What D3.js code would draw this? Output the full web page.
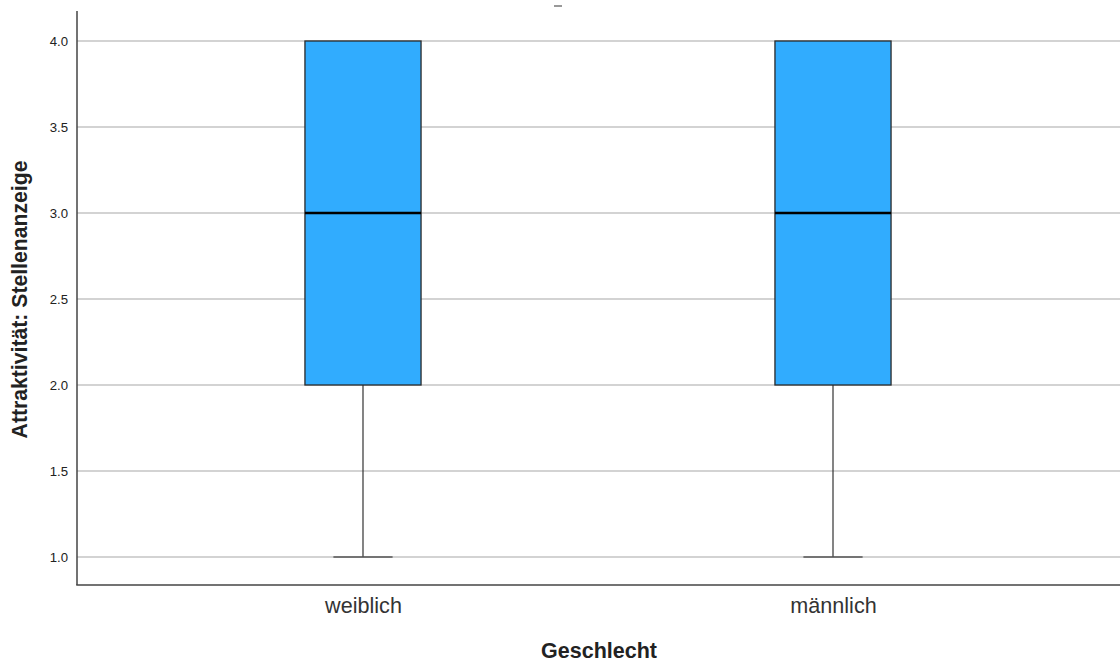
<!DOCTYPE html>
<html>
<head>
<meta charset="utf-8">
<script src="https://cdn.jsdelivr.net/npm/d3@7"></script>
<style>
  html, body { margin: 0; padding: 0; background: #fff; }
  svg { display: block; font-family: "Liberation Sans", Arial, sans-serif; }
</style>
</head>
<body>
<svg id="chart" width="1120" height="664"></svg>
<script>
// Boxplot summary per gender group
const categories = ["weiblich", "männlich"];
const whiskerLow = [1, 1];
const q1 = [2, 2];
const median = [3, 3];
const q3 = [4, 4];
const whiskerHigh = [4, 4];
const yTicks = [1.0, 1.5, 2.0, 2.5, 3.0, 3.5, 4.0];

const width = 1120, height = 664;
const margin = { left: 77, right: 1, top: 11, bottom: 79 };

const svg = d3.select("#chart");

const y = d3.scaleLinear()
  .domain([0.8372, 4.1744])
  .range([height - margin.bottom, margin.top]);

const x = d3.scalePoint()
  .domain(categories)
  .range([margin.left, width - margin.right])
  .padding(0.6085);

const step = x.step();
const boxW = step * 0.247;
const capW = boxW * 0.51;

// Horizontal grid lines
svg.append("g")
  .selectAll("line")
  .data(yTicks)
  .join("line")
  .attr("x1", margin.left)
  .attr("x2", width)
  .attr("y1", d => y(d))
  .attr("y2", d => y(d))
  .attr("stroke", "#c4c4c4")
  .attr("stroke-width", 1.3);

// Y axis
const yAxis = svg.append("g")
  .attr("transform", `translate(${margin.left},0)`)
  .call(d3.axisLeft(y).tickValues(yTicks).tickFormat(d3.format(".1f")).tickSize(0).tickPadding(9));
yAxis.select(".domain").remove();
yAxis.selectAll("text")
  .attr("font-size", 13.2)
  .attr("fill", "#222")
  .attr("font-family", "Liberation Sans, Arial, sans-serif");

// X axis labels
const xAxis = svg.append("g")
  .attr("transform", `translate(0,${height - margin.bottom})`)
  .call(d3.axisBottom(x).tickSize(0).tickPadding(13));
xAxis.select(".domain").remove();
xAxis.selectAll("text")
  .attr("font-size", 21.6)
  .attr("fill", "#333")
  .attr("font-family", "Liberation Sans, Arial, sans-serif");

// Whiskers and caps
const groups = svg.append("g")
  .selectAll("g")
  .data(categories.map((c, i) => ({ c, lo: whiskerLow[i], q1: q1[i], med: median[i], q3: q3[i], hi: whiskerHigh[i] })))
  .join("g");

groups.append("line")
  .attr("x1", d => x(d.c)).attr("x2", d => x(d.c))
  .attr("y1", d => y(d.lo)).attr("y2", d => y(d.q1))
  .attr("stroke", "#333").attr("stroke-width", 1.2);
groups.append("line")
  .attr("x1", d => x(d.c)).attr("x2", d => x(d.c))
  .attr("y1", d => y(d.hi)).attr("y2", d => y(d.q3))
  .attr("stroke", "#333").attr("stroke-width", 1.2);
groups.append("line")
  .attr("x1", d => x(d.c) - capW / 2).attr("x2", d => x(d.c) + capW / 2)
  .attr("y1", d => y(d.lo)).attr("y2", d => y(d.lo))
  .attr("stroke", "#555").attr("stroke-width", 1.5);

// Boxes
groups.append("rect")
  .attr("x", d => x(d.c) - boxW / 2)
  .attr("width", boxW)
  .attr("y", d => y(d.q3))
  .attr("height", d => y(d.q1) - y(d.q3))
  .attr("fill", "#31acfe")
  .attr("stroke", "#2a2a2a")
  .attr("stroke-width", 1.3);

// Median
groups.append("line")
  .attr("x1", d => x(d.c) - boxW / 2).attr("x2", d => x(d.c) + boxW / 2)
  .attr("y1", d => y(d.med)).attr("y2", d => y(d.med))
  .attr("stroke", "#000").attr("stroke-width", 2.4);

// Axis frame lines
svg.append("line")
  .attr("x1", margin.left).attr("x2", margin.left)
  .attr("y1", margin.top).attr("y2", height - margin.bottom)
  .attr("stroke", "#444").attr("stroke-width", 1.5);
svg.append("line")
  .attr("x1", margin.left - 0.75).attr("x2", width)
  .attr("y1", height - margin.bottom).attr("y2", height - margin.bottom)
  .attr("stroke", "#444").attr("stroke-width", 1.5);

// Title stub at the top edge
svg.append("line")
  .attr("x1", 554).attr("x2", 562)
  .attr("y1", 6).attr("y2", 6)
  .attr("stroke", "#555").attr("stroke-width", 1.2);

// Axis titles
svg.append("text")
  .attr("x", 599).attr("y", 658)
  .attr("text-anchor", "middle")
  .attr("font-size", 21.5).attr("font-weight", "bold")
  .attr("fill", "#222")
  .text("Geschlecht");

svg.append("text")
  .attr("transform", `translate(27,${(162 + 437) / 2}) rotate(-90)`)
  .attr("text-anchor", "middle")
  .attr("font-size", 21.2).attr("font-weight", "bold")
  .attr("fill", "#222")
  .text("Attraktivität: Stellenanzeige");
</script>
</body>
</html>
